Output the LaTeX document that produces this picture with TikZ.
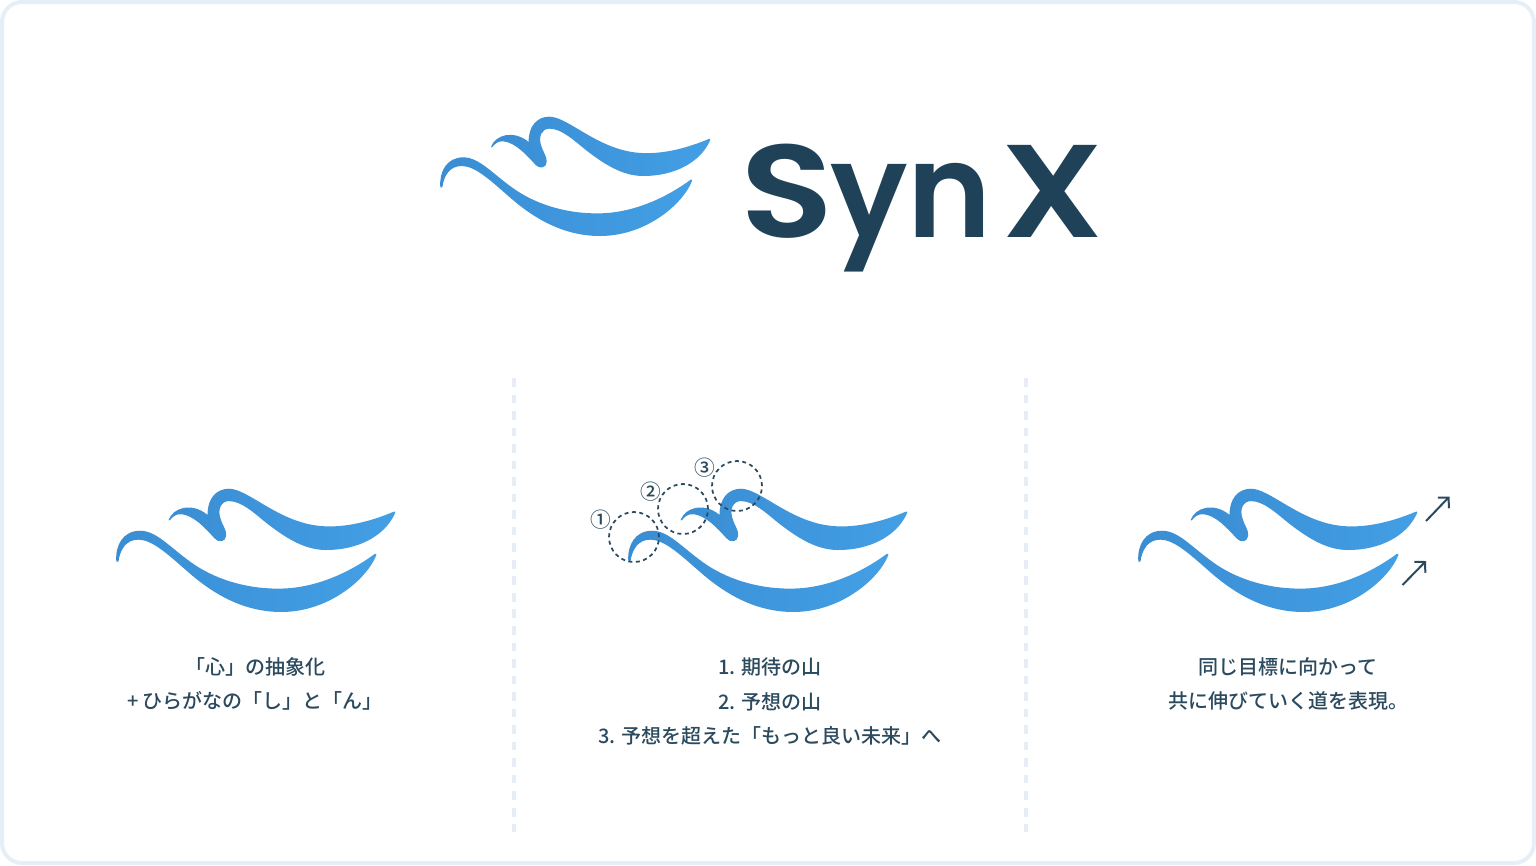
\documentclass[tikz,border=0pt]{standalone}
\usepackage{fontspec}
\usetikzlibrary{arrows.meta}
\setmainfont{Noto Sans CJK JP Medium}
\newfontfamily\synfont{Poppins SemiBold}
\definecolor{wavedark}{HTML}{3A8DD3}
\definecolor{wavelight}{HTML}{439FE5}
\definecolor{titleink}{HTML}{1F4259}
\definecolor{textink}{HTML}{2B4A5E}
\definecolor{framecol}{HTML}{E6EFF8}
\definecolor{dashcol}{HTML}{E6EDF5}
\tikzset{
  wavefill/.style={left color=wavedark,right color=wavelight,draw=none},
  captiontext/.style={font=\fontsize{15pt}{25.55pt}\selectfont,text=textink,align=center,inner sep=0pt},
  markcircle/.style={draw=textink,line width=1.3pt,dash pattern=on 3pt off 2.6pt},
  numlabel/.style={font=\fontsize{15.5pt}{15.5pt}\selectfont,text=textink,inner sep=0pt},
  dividerline/.style={draw=dashcol,line width=3pt,dash pattern=on 6.5pt off 5.9pt},
  growarrow/.style={draw=textink,line width=1.5pt,-{Straight Barb[length=5.6pt,width=11.6pt,line width=1.5pt]}}
}
\newcommand{\logomark}[3]{%
\begin{scope}[shift={(#1,#2)},x=#3*.25pt,y=#3*-.25pt]
\path[wavefill] (183,141) .. controls (195,105) and (250,88) .. (296,126)
 .. controls (295,80) and (320,50) .. (358,50)
 .. controls (410,50) and (490,135) .. (600,155)
 .. controls (680,170) and (770,145) .. (836,117)
 .. controls (840,115) and (842,117) .. (841,120)
 .. controls (810,190) and (730,228) .. (640,228)
 .. controls (575,228) and (520,190) .. (470,152)
 .. controls (430,120) and (395,86) .. (358,86)
 .. controls (335,86) and (325,110) .. (333,135)
 .. controls (338,155) and (352,170) .. (350,186)
 .. controls (349,205) and (328,208) .. (316,194)
 .. controls (290,165) and (255,127) .. (220,124)
 .. controls (205,123) and (195,130) .. (186,142) -- cycle;
\path[wavefill] (31,262) .. controls (27,215) and (50,172) .. (100,172)
 .. controls (150,172) and (190,225) .. (260,272)
 .. controls (330,318) and (420,342) .. (510,340)
 .. controls (620,338) and (720,285) .. (782,239)
 .. controls (785,237) and (787,240) .. (786,243)
 .. controls (760,310) and (650,408) .. (510,408)
 .. controls (400,408) and (310,355) .. (235,288)
 .. controls (180,240) and (135,198) .. (95,198)
 .. controls (60,198) and (42,225) .. (37,262) -- cycle;
\end{scope}}
\begin{document}
\begin{tikzpicture}[x=.75pt,y=-.75pt]
\useasboundingbox (0,0) rectangle (1536,865);
\draw[draw=framecol,line width=3pt,rounded corners=15pt,fill=white] (2,2) rectangle (1534,863);
% main logo
\logomark{430}{100}{1}
\node[anchor=base west,inner sep=0pt,text=titleink,font=\synfont\fontsize{99pt}{99pt}\selectfont] (title) at (740,237) {\scalebox{1.16}[1]{S}\kern-2.25pt\scalebox{.97}[1]{y}\scalebox{.965}[1]{n}\kern6.75pt\scalebox{1.13}[1]{X}};
% dividers
\coordinate (d1a) at (514,378); \coordinate (d1b) at (514,832);
\coordinate (d2a) at (1026,378); \coordinate (d2b) at (1026,832);
\draw[dividerline] (d1a) -- (d1b);
\draw[dividerline] (d2a) -- (d2b);
% lower logos
\logomark{105.67}{471.5}{1.033}
\logomark{617.67}{471.5}{1.033}
\logomark{1127.67}{471.5}{1.033}
% circles
\node[markcircle,circle,minimum size=37.5pt,inner sep=0pt] (c1) at (634,537) {};
\node[markcircle,circle,minimum size=37.5pt,inner sep=0pt] (c2) at (683,509) {};
\node[markcircle,circle,minimum size=37.5pt,inner sep=0pt] (c3) at (737,486) {};
\node[numlabel] (n1) at (600.7,519.7) {①};
\node[numlabel] (n2) at (650.7,491.7) {②};
\node[numlabel] (n3) at (704.7,467.7) {③};
% arrows
\coordinate (a1s) at (1426,521); \coordinate (a1e) at (1449.5,496.5);
\coordinate (a2s) at (1402.5,585); \coordinate (a2e) at (1426,561);
\draw[growarrow] (a1s) -- (a1e);
\draw[growarrow] (a2s) -- (a2e);
% captions
\node[captiontext] (t1) at (255,684) {「心」の抽象化\\+ ひらがなの「し」と「ん」};
\node[captiontext] (t2) at (770,701.5) {1. 期待の山\\2. 予想の山\\3. 予想を超えた「もっと良い未来」へ};
\node[captiontext] (t3) at (1288,683.5) {同じ目標に向かって\\共に伸びていく道を表現。};
\end{tikzpicture}
\end{document}
